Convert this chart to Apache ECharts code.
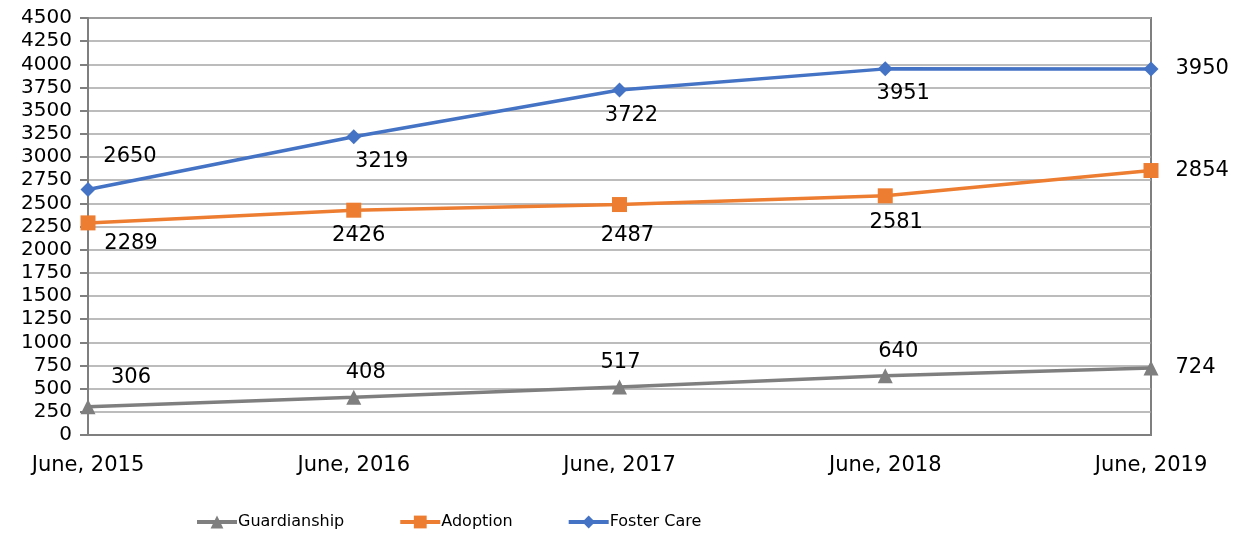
<!DOCTYPE html>
<html>
<head>
<meta charset="utf-8">
<script src="https://cdn.jsdelivr.net/npm/echarts@6/dist/echarts.min.js"></script>
<style>
  html, body { margin: 0; padding: 0; background: #fff; }
  #chart { width: 1240px; height: 541px; }
</style>
</head>
<body>
<div id="chart"></div>
<script>
const years = ["June, 2015", "June, 2016", "June, 2017", "June, 2018", "June, 2019"];
const guardianship = [306, 408, 517, 640, 724];
const adoption = [2289, 2426, 2487, 2581, 2854];
const fosterCare = [2650, 3219, 3722, 3951, 3950];

// label offsets (px) from each point
const guardOffsets = [[43, -29], [12, -25], [1, -25], [13, -24], null];
const adoptOffsets = [[43, 21], [5, 25], [8, 31], [11, 27], null];
const fosterOffsets = [[42, -33], [28, 25], [12, 25], [18, 25], null];

const FONT = "DejaVu Sans";

function withLabels(values, offsets) {
  return values.map((v, i) => {
    if (!offsets[i]) {
      return {
        value: v,
        label: { position: "right", distance: 17, align: "left" }
      };
    }
    return {
      value: v,
      label: { position: "inside", offset: offsets[i], align: "center", verticalAlign: "middle" }
    };
  });
}

function makeSeries(name, values, offsets, color, symbol, size) {
  return {
    name: name,
    type: "line",
    data: withLabels(values, offsets),
    symbol: symbol,
    symbolSize: size,
    lineStyle: { color: color, width: 3.5 },
    itemStyle: { color: color },
    label: {
      show: true,
      color: "#000",
      fontFamily: FONT,
      fontSize: 21
    },
    emphasis: { disabled: true },
    animation: false
  };
}

const chart = echarts.init(document.getElementById("chart"));
chart.setOption({
  animation: false,
  grid: { left: 88, right: 89, top: 18, bottom: 106, show: true, borderColor: "#7f7f7f", borderWidth: 2 },
  legend: {
    left: 190,
    top: 509,
    itemWidth: 40,
    itemHeight: 16,
    itemGap: 54,
    lineStyle: { width: 4 },
    textStyle: { fontFamily: FONT, fontSize: 16, color: "#000", padding: [0, 0, 0, -4] },
    data: ["Guardianship", "Adoption", "Foster Care"]
  },
  xAxis: {
    type: "category",
    data: years,
    boundaryGap: false,
    axisLine: { lineStyle: { color: "#7f7f7f", width: 2 } },
    axisTick: { show: false },
    axisLabel: { color: "#000", fontFamily: FONT, fontSize: 21, margin: 20 },
    splitLine: { show: false }
  },
  yAxis: {
    type: "value",
    min: 0,
    max: 4500,
    interval: 250,
    axisLine: { show: true, lineStyle: { color: "#7f7f7f", width: 2 } },
    axisTick: { show: true, length: 8, lineStyle: { color: "#7f7f7f", width: 2 } },
    axisLabel: { color: "#000", fontFamily: FONT, fontSize: 20, margin: 16, formatter: (v) => String(v) },
    splitLine: { lineStyle: { color: "#a6a6a6", width: 1.5 } }
  },
  series: [
    makeSeries("Guardianship", guardianship, guardOffsets, "#7f7f7f", "triangle", 15),
    makeSeries("Adoption", adoption, adoptOffsets, "#ed7d31", "rect", 15),
    makeSeries("Foster Care", fosterCare, fosterOffsets, "#4472c4", "diamond", 15)
  ]
});
</script>
</body>
</html>
